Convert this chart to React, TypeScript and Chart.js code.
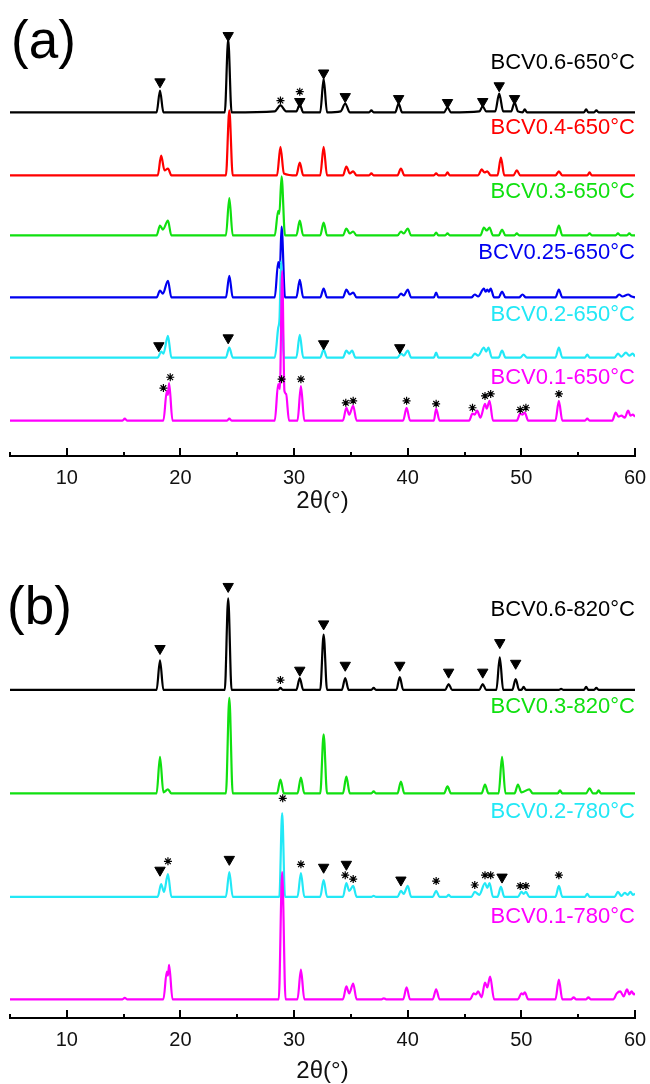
import React, { useEffect, useRef } from "react";
import { Chart, registerables } from "chart.js";
Chart.register(...registerables);

// ---------- shared axis data ----------
const X_TICKS = [10, 20, 30, 40, 50, 60];
const X_MINOR = [5, 15, 25, 35, 45, 55];
const AXIS_TITLE = "2θ(°)";

// ---------- panel (a): 2θ / intensity pairs ----------
const LABELS_A = ["BCV0.6-650°C", "BCV0.4-650°C", "BCV0.3-650°C", "BCV0.25-650°C", "BCV0.2-650°C", "BCV0.1-650°C"];
const OFFSETS_A = [349, 285, 224, 161, 100, 36];

const BCV06_650 = [[5,0],[17.9,0],[18.2,22],[18.5,0],[23.9,0],[24.2,74],[24.5,0],[28.3,1],[28.8,7],[29.3,1],[30.2,1],[30.5,8],[30.8,0],[32.3,0],[32.6,34],[32.9,0],[34.1,1],[34.5,9],[34.9,0],[36.6,0],[36.8,2],[37.0,0],[38.9,0],[39.2,9],[39.5,0],[43.2,0],[43.5,5],[43.8,0],[46.3,1],[46.6,6],[46.9,1],[47.7,1],[48.05,19],[48.4,1],[49.1,1],[49.4,10],[49.7,1],[50.1,0],[50.3,3],[50.5,0],[55.5,0],[55.7,3],[55.9,0],[56.4,0],[56.6,2],[56.8,0],[60,0]];
const BCV04_650 = [[5,0],[18.0,0],[18.3,20],[18.6,5],[18.9,7],[19.2,0],[24.0,0],[24.3,66],[24.6,0],[28.5,0],[28.8,29],[29.1,2],[30.2,0],[30.5,13],[30.8,0],[32.3,0],[32.6,29],[32.9,0],[34.3,0],[34.6,9],[34.9,2],[35.2,4],[35.5,0],[36.6,0],[36.8,2],[37.0,0],[39.1,0],[39.4,7],[39.7,0],[42.3,0],[42.5,2],[42.7,0],[43.3,0],[43.5,3],[43.7,0],[46.2,0],[46.5,6],[46.75,3],[47.0,4],[47.3,0],[47.9,0],[48.2,18],[48.5,0],[49.3,0],[49.6,5],[49.9,0],[53.0,0],[53.3,4],[53.6,0],[55.8,0],[56.0,3],[56.2,0],[60,0]];
const BCV03_650 = [[5,0],[17.9,0],[18.2,10],[18.45,6],[18.9,15],[19.2,0],[24.0,0],[24.3,38],[24.6,0],[28.3,0],[28.6,25],[28.7,22],[28.9,60],[29.2,0],[30.2,0],[30.5,15],[30.8,0],[32.3,0],[32.6,13],[32.9,0],[34.3,0],[34.6,7],[34.9,2],[35.2,4],[35.5,0],[39.1,0],[39.4,4],[39.65,2],[40.0,7],[40.3,0],[42.3,0],[42.5,3],[42.7,0],[43.3,0],[43.5,2],[43.7,0],[46.4,0],[46.7,8],[46.95,5],[47.2,8],[47.5,0],[48.0,0],[48.3,6],[48.6,0],[49.4,0],[49.6,2],[49.8,0],[53.0,0],[53.3,10],[53.6,0],[55.8,0],[56.0,2],[56.2,0],[58.3,0],[58.5,2],[58.7,0],[59.3,0],[59.5,2],[59.7,0],[60,0]];
const BCV025_650 = [[5,0],[17.9,0],[18.2,7],[18.45,4],[18.9,17],[19.2,0],[24.0,0],[24.3,22],[24.6,0],[28.3,0],[28.6,36],[28.75,30],[28.9,72],[29.2,0],[30.2,0],[30.5,18],[30.8,0],[32.3,0],[32.6,9],[32.9,0],[34.3,0],[34.6,8],[34.9,3],[35.2,5],[35.5,0],[39.1,0],[39.4,4],[39.65,2],[40.0,8],[40.3,0],[42.3,0],[42.5,5],[42.7,0],[45.6,0],[45.9,3],[46.2,1],[46.7,9],[46.85,6],[47.0,8],[47.15,6],[47.3,9],[47.6,0],[48.0,0],[48.3,6],[48.6,0],[49.8,0],[50.1,3],[50.4,0],[53.0,0],[53.3,8],[53.6,0],[58.3,0],[58.6,3],[58.9,1],[59.4,3],[59.7,1],[60,0]];
const BCV02_650 = [[5,0],[18.0,0],[18.3,6],[18.5,4],[18.9,22],[19.2,0],[24.0,0],[24.3,10],[24.6,0],[28.3,0],[28.6,30],[28.72,40],[28.85,98],[29.1,0],[30.2,0],[30.5,23],[30.8,0],[32.3,0],[32.6,8],[32.9,0],[34.3,0],[34.6,7],[34.85,4],[35.1,7],[35.4,0],[39.1,0],[39.4,4],[39.65,2],[40.0,7],[40.3,0],[42.3,0],[42.5,5],[42.7,0],[45.6,0],[45.9,4],[46.2,2],[46.7,10],[46.9,6],[47.1,10],[47.4,0],[48.0,0],[48.3,7],[48.6,0],[49.9,0],[50.2,3],[50.5,0],[53.0,0],[53.3,10],[53.6,0],[55.6,0],[55.8,3],[56.0,0],[58.2,0],[58.5,4],[58.8,1],[59.2,5],[59.5,2],[59.8,4],[60,1]];
const BCV01_650 = [[5,0],[14.9,0],[15.1,2],[15.3,0],[18.5,0],[18.8,30],[18.9,26],[19.0,38],[19.3,0],[24.1,0],[24.3,2],[24.5,0],[28.3,0],[28.6,37],[28.75,32],[28.95,152],[29.15,30],[29.3,27],[29.55,0],[30.3,0],[30.6,35],[30.9,0],[34.3,0],[34.6,13],[34.85,6],[35.2,15],[35.5,0],[39.6,0],[39.9,13],[40.2,0],[42.3,0],[42.5,12],[42.8,0],[45.4,0],[45.7,7],[45.9,6],[46.1,10],[46.4,3],[46.8,17],[46.95,12],[47.2,20],[47.5,0],[49.6,0],[49.9,7],[50.1,6],[50.3,8],[50.6,0],[53.0,0],[53.3,20],[53.6,0],[55.6,0],[55.8,2],[56.0,0],[58.0,0],[58.3,8],[58.55,4],[58.8,5],[59.1,3],[59.4,10],[59.6,5],[59.8,6],[60,4]];

// phase markers (a): [2θ, height on the stacked scale]
const TRI_A = [[18.2,380],[24.2,427],[30.5,360],[32.6,389],[34.5,365],[39.2,363],[43.5,359],[46.6,360],[48.05,376],[49.4,363],[18.1,112],[24.2,120],[32.6,114],[39.3,110]];
const STAR_A = [[28.8,361],[30.5,370],[18.5,69],[19.1,80],[28.9,78],[30.6,78],[34.55,54],[35.2,56],[39.9,56],[42.5,53],[45.7,49],[46.8,61],[47.3,63],[49.9,47],[50.4,49],[53.3,63]];

// ---------- panel (b) ----------
const LABELS_B = ["BCV0.6-820°C", "BCV0.3-820°C", "BCV0.2-780°C", "BCV0.1-780°C"];
const OFFSETS_B = [333, 228, 123, 19];

const BCV06_820 = [[5,0],[17.9,0],[18.2,30],[18.5,0],[23.9,0],[24.2,93],[24.5,0],[28.6,0],[28.8,2],[29.0,0],[30.2,0],[30.5,12],[30.8,0],[32.3,0],[32.6,56],[32.9,0],[34.2,0],[34.5,12],[34.8,0],[36.8,0],[37.0,2],[37.2,0],[39.0,0],[39.3,13],[39.6,0],[43.3,0],[43.6,6],[43.9,0],[46.3,0],[46.6,6],[46.9,0],[47.8,0],[48.1,33],[48.4,0],[49.2,0],[49.5,11],[49.8,0],[50.0,0],[50.2,3],[50.4,0],[53.3,0],[53.5,1],[53.7,0],[55.5,0],[55.7,3],[55.9,0],[56.4,0],[56.6,2],[56.8,0],[60,0]];
const BCV03_820 = [[5,0],[17.9,0],[18.2,37],[18.5,1],[18.9,4],[19.2,0],[24.0,0],[24.3,97],[24.6,0],[28.5,0],[28.8,14],[29.1,0],[30.3,0],[30.6,16],[30.9,0],[32.3,0],[32.6,60],[32.9,0],[34.3,0],[34.6,17],[34.9,0],[36.8,0],[37.0,2],[37.2,0],[39.1,0],[39.4,12],[39.7,0],[43.2,0],[43.5,7],[43.8,0],[46.5,0],[46.8,9],[47.1,0],[48.0,0],[48.3,37],[48.6,0],[49.4,0],[49.7,9],[50.0,1],[50.7,4],[51.0,0],[53.2,0],[53.4,3],[53.6,0],[55.7,0],[56.0,5],[56.3,0],[56.6,0],[56.8,3],[57.0,0],[60,0]];
const BCV02_780 = [[5,0],[18.0,0],[18.3,13],[18.55,5],[18.9,23],[19.2,0],[24.0,0],[24.3,25],[24.6,0],[28.7,0],[28.95,85],[29.2,0],[30.3,0],[30.6,24],[30.9,0],[32.3,0],[32.6,17],[32.9,0],[34.3,0],[34.6,14],[34.85,6],[35.2,11],[35.5,0],[36.8,0],[37.0,1],[37.2,0],[39.1,0],[39.4,6],[39.65,3],[40.0,11],[40.3,0],[42.2,0],[42.5,6],[42.8,0],[43.4,0],[43.6,2],[43.8,0],[45.6,0],[45.9,5],[46.3,2],[46.8,14],[47.0,9],[47.2,14],[47.5,0],[47.9,0],[48.2,10],[48.5,0],[49.7,0],[50.0,5],[50.2,3],[50.4,5],[50.7,0],[53.0,0],[53.3,11],[53.6,0],[55.6,0],[55.8,3],[56.0,0],[58.2,0],[58.5,5],[58.8,1],[59.1,4],[59.35,2],[59.6,5],[59.8,2],[60,3]];
const BCV01_780 = [[5,0],[14.9,0],[15.1,1.5],[15.3,0],[18.5,0],[18.8,28],[18.9,24],[19.0,35],[19.3,0],[28.65,0],[28.95,129],[29.25,0],[30.3,0],[30.6,30],[30.9,0],[34.3,0],[34.6,13],[34.85,6],[35.2,16],[35.5,0],[37.7,0],[37.9,1],[38.1,0],[39.6,0],[39.9,12],[40.2,0],[42.2,0],[42.5,10],[42.8,0],[45.5,0],[45.8,6],[46.0,5],[46.2,8],[46.5,2],[46.8,17],[47.0,12],[47.25,23],[47.6,0],[49.7,0],[50.0,6],[50.15,5],[50.3,7],[50.6,0],[53.0,0],[53.3,20],[53.6,0],[54.4,0],[54.6,2],[54.8,0],[55.7,0],[55.9,2],[56.1,0],[58.1,0],[58.4,6],[58.7,8],[59.0,3],[59.3,10],[59.5,5],[59.7,8],[59.9,5],[60,6]];

const TRI_B = [[18.2,375],[24.2,438],[30.5,353],[32.6,400],[34.5,358],[39.3,358],[43.6,351],[46.6,351],[48.1,381],[49.5,360],[18.2,150],[24.3,161],[32.6,153],[34.6,156],[39.4,140],[48.3,143]];
const STAR_B = [[28.8,343],[18.9,159],[29.0,223],[30.6,156],[34.5,145],[35.2,141],[42.5,139],[45.9,135],[46.8,145],[47.3,145],[49.9,134],[50.4,134],[53.3,145]];

// ---------- styles ----------
const FONT = '"Liberation Sans", Arial, Helvetica, sans-serif';
const C_BLACK = "#000000", C_RED = "#ff0000", C_GREEN = "#10e010", C_BLUE = "#0000f0", C_CYAN = "#22e8f6", C_MAGENTA = "#ff00ff";

type Panel = {
  letter: string; letterX: number; letterY: number;
  series: number[][][]; offsets: number[]; labels: string[]; colors: string[];
  labelY: number[]; tri: number[][]; star: number[][];
  yMax: number; axisH: number; titlePad: number;
};

const PANEL_A: Panel = {
  letter: "(a)", letterX: 11, letterY: 58,
  series: [BCV06_650, BCV04_650, BCV03_650, BCV025_650, BCV02_650, BCV01_650],
  offsets: OFFSETS_A, labels: LABELS_A,
  colors: [C_BLACK, C_RED, C_GREEN, C_BLUE, C_CYAN, C_MAGENTA],
  labelY: [63, 128, 192, 253, 315, 378],
  tri: TRI_A, star: STAR_A, yMax: 456, axisH: 86, titlePad: 29,
};
const PANEL_B: Panel = {
  letter: "(b)", letterX: 7, letterY: 82,
  series: [BCV06_820, BCV03_820, BCV02_780, BCV01_780],
  offsets: OFFSETS_B, labels: LABELS_B,
  colors: [C_BLACK, C_GREEN, C_CYAN, C_MAGENTA],
  labelY: [68, 165, 270, 375],
  tri: TRI_B, star: STAR_B, yMax: 476, axisH: 66, titlePad: 1,
};

function makeDecor(p: Panel) {
  return {
    id: "decor",
    afterDraw(chart: any) {
      const ctx = chart.ctx as CanvasRenderingContext2D;
      const xs = chart.scales.x;
      const area = chart.chartArea;
      const y0 = area.bottom;
      ctx.save();
      ctx.strokeStyle = "#000";
      ctx.lineWidth = 2;
      X_TICKS.forEach((v) => {
        const px = Math.round(xs.getPixelForValue(v));
        ctx.beginPath(); ctx.moveTo(px, y0); ctx.lineTo(px, y0 - 8); ctx.stroke();
      });
      X_MINOR.forEach((v) => {
        const px = Math.round(xs.getPixelForValue(v));
        ctx.beginPath(); ctx.moveTo(px, y0); ctx.lineTo(px, y0 - 4); ctx.stroke();
      });
      ctx.font = `22px ${FONT}`;
      ctx.textAlign = "right";
      ctx.textBaseline = "middle";
      p.labels.forEach((t, i) => {
        ctx.fillStyle = p.colors[i];
        ctx.fillText(t, area.right, p.labelY[i]);
      });
      ctx.font = `53px ${FONT}`;
      ctx.textAlign = "left";
      ctx.textBaseline = "alphabetic";
      ctx.fillStyle = "#000";
      ctx.fillText(p.letter, p.letterX, p.letterY);
      ctx.restore();
    },
  };
}

function XrdPanel({ p }: { p: Panel }) {
  const ref = useRef<HTMLCanvasElement>(null);
  useEffect(() => {
    const traces = p.series.map((s, i) => ({
      type: "line" as const,
      data: s.map(([x, y]) => ({ x, y: y + p.offsets[i] })),
      borderColor: p.colors[i],
      borderWidth: 2.2,
      pointRadius: 0,
      fill: false,
      cubicInterpolationMode: "monotone" as const,
    }));
    const ordered = traces.slice().reverse();
    const markers = [
      {
        type: "line" as const,
        data: p.tri.map(([x, y]) => ({ x, y })),
        showLine: false,
        pointStyle: "triangle" as const,
        rotation: 180,
        pointRadius: 6,
        backgroundColor: "#000",
        borderColor: "#000",
        borderWidth: 1,
      },
      {
        type: "line" as const,
        data: p.star.map(([x, y]) => ({ x, y })),
        showLine: false,
        pointStyle: "star" as const,
        pointRadius: 4,
        backgroundColor: "#000",
        borderColor: "#000",
        borderWidth: 1.2,
      },
    ];
    const chart = new Chart(ref.current as HTMLCanvasElement, {
      type: "line",
      data: { datasets: [...markers, ...ordered] as any },
      options: {
        animation: false,
        responsive: false,
        maintainAspectRatio: false,
        events: [],
        layout: { padding: { left: 10, right: 15, top: 0, bottom: 0 } },
        plugins: { legend: { display: false }, tooltip: { enabled: false } },
        scales: {
          x: {
            type: "linear",
            min: 5,
            max: 60,
            afterBuildTicks: (s: any) => { s.ticks = X_TICKS.map((v) => ({ value: v })); },
            afterFit: (s: any) => { s.height = p.axisH; s.paddingLeft = 0; s.paddingRight = 0; },
            grid: { display: false, drawTicks: false },
            border: { display: true, color: "#000", width: 2 },
            ticks: { padding: 10, color: "#111", font: { family: FONT, size: 20 }, maxRotation: 0, autoSkip: false },
            title: {
              display: true, text: AXIS_TITLE, color: "#111",
              font: { family: FONT, size: 24, lineHeight: 1 },
              padding: { top: 0, bottom: p.titlePad },
            },
          },
          y: { type: "linear", display: false, min: 0, max: p.yMax },
        },
      } as any,
      plugins: [makeDecor(p)],
    });
    return () => chart.destroy();
  }, [p]);
  return <canvas ref={ref} width={650} height={542} style={{ display: "block", width: 650, height: 542 }} />;
}

export default function App() {
  return (
    <div style={{ position: "absolute", left: 0, top: 0, width: 650, height: 1084, background: "#fff" }}>
      <XrdPanel p={PANEL_A} />
      <XrdPanel p={PANEL_B} />
    </div>
  );
}
